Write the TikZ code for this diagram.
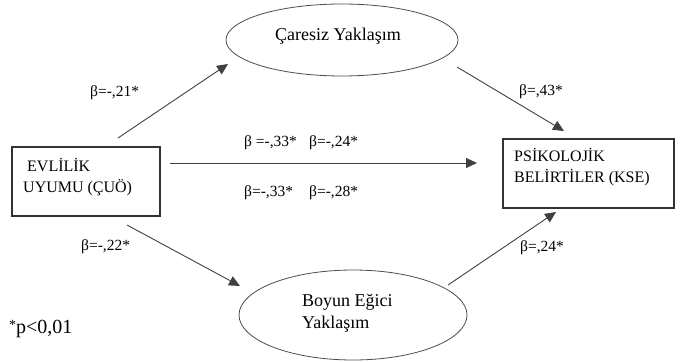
\documentclass[tikz,border=0pt]{standalone}
\usepackage{fontspec}
\setmainfont{Liberation Serif}
\usetikzlibrary{shapes.geometric,arrows.meta}
\tikzset{
  box/.style={draw=black!80, line width=1.2pt, rectangle, inner sep=0pt},
  oval/.style={draw=black!70, line width=0.8pt, ellipse, inner sep=0pt},
  conn/.style={draw=black!75, line width=0.9pt, -{Triangle[length=11pt,width=10pt]}},
  coef/.style={font=\fontsize{15.5}{18}\selectfont, anchor=west, inner sep=0pt},
  txt/.style={font=\fontsize{16}{18}\selectfont, anchor=west, inner sep=0pt},
  big/.style={font=\fontsize{18}{21}\selectfont, anchor=west, inner sep=0pt},
}
\begin{document}
\begin{tikzpicture}[x=1pt,y=-1pt]
\useasboundingbox (0,0) rectangle (682,363);
% nodes
\node[box, minimum width=148pt, minimum height=69pt] (L) at (86,181.5) {};
\node[box, minimum width=171pt, minimum height=69pt] (R) at (588.5,173.5) {};
\node[oval, minimum width=232pt, minimum height=72pt] (E1) at (342,40) {};
\node[oval, minimum width=228pt, minimum height=90pt] (E2) at (353,315) {};
% texts
\node[txt] (l1) at (27,165) {EVLİLİK};
\node[txt] (l2) at (23,188) {UYUMU (ÇUÖ)};
\node[txt] (r1) at (514,155) {PSİKOLOJİK};
\node[txt] (r2) at (514,178) {BELİRTİLER (KSE)};
\node[big] (e1t) at (275,36) {Çaresiz Yaklaşım};
\node[big] (e2a) at (302,302) {Boyun Eğici};
\node[big] (e2b) at (302,324) {Yaklaşım};
% coefficients
\node[coef] (c1) at (90,93) {β=-,21*};
\node[coef] (c2) at (519,92) {β=,43*};
\node[coef] (c3) at (244,143) {β =-,33*};
\node[coef] (c4) at (309,143) {β=-,24*};
\node[coef] (c5) at (244,193) {β=-,33*};
\node[coef] (c6) at (309,193) {β=-,28*};
\node[coef] (c7) at (81,247) {β=-,22*};
\node[coef] (c8) at (520,248) {β=,24*};
\node[font=\fontsize{20}{23}\selectfont, anchor=west, inner sep=0pt] (p) at (9,329) {\raisebox{0.45ex}{\fontsize{14}{16}\selectfont *}p<0,01};
% connector endpoints
\coordinate (s1) at (118,138); \coordinate (t1) at (228,64);
\coordinate (s2) at (457,67);  \coordinate (t2) at (564,131);
\coordinate (s3) at (127,225); \coordinate (t3) at (240,286);
\coordinate (s4) at (448,285); \coordinate (t4) at (556,212);
\coordinate (s5) at (170,163); \coordinate (t5) at (477,163);
\draw[conn] (s1) -- (t1);
\draw[conn] (s2) -- (t2);
\draw[conn] (s3) -- (t3);
\draw[conn] (s4) -- (t4);
\draw[conn] (s5) -- (t5);
\end{tikzpicture}
\end{document}
